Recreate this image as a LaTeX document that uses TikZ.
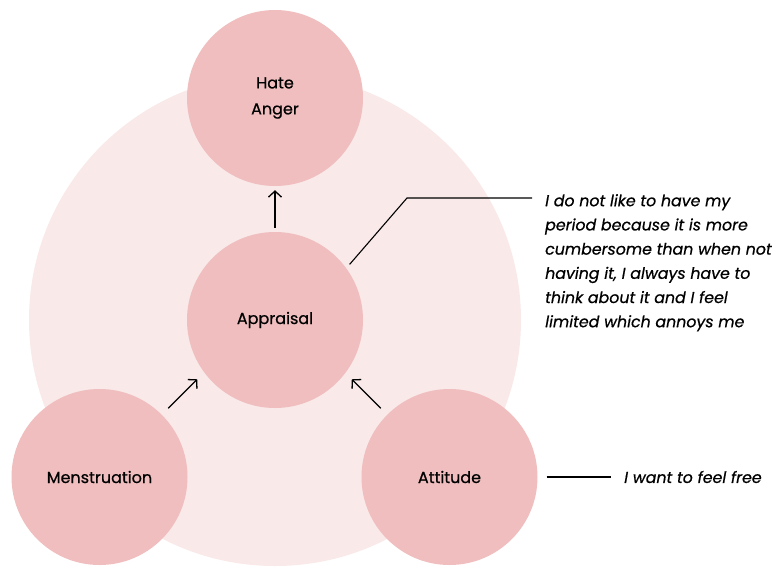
\documentclass[tikz,border=0pt]{standalone}
\usepackage{fontspec}
\setmainfont{Poppins}[FakeBold=0.6]
\usetikzlibrary{positioning, arrows.meta}
\definecolor{petal}{HTML}{F0BEBE}
\definecolor{blush}{HTML}{F9E9E9}

\begin{document}
\begin{tikzpicture}[
x=1pt, y=-1pt,
bubble/.style={circle, fill=petal, minimum size=176pt, inner sep=0pt, align=center, font=\fontsize{16}{26}\selectfont},
link/.style={-{Straight Barb[length=6pt, width=13pt]}, line width=1.3pt},
remark/.style={align=left, inner sep=0pt, font=\fontsize{15.8}{24.2}\selectfont\itshape}
]
\useasboundingbox (0,0) rectangle (774,568);

\def\cx{275}
\def\cy{320}
\def\r{246}

% soft disc behind everything
\fill[blush] (\cx,\cy) circle (\r pt);

\node[bubble] (hate) at (\cx, 98) {Hate\\Anger};
\node[bubble] (appraisal) at (\cx, \cy) {Appraisal};
\node[bubble] (menstruation) at (99.5, 477) {Menstruation};
\node[bubble] (attitude) at (449.5, 477) {Attitude};

\draw[link, shorten <=4pt, shorten >=4pt] (appraisal) -- (hate);
\draw[link] (menstruation.45) ++(45:9pt) -- ++(45:41pt);
\draw[link] (attitude.135) ++(135:9pt) -- ++(135:41pt);

% callouts
\node[remark, anchor=north west] (why) at (545, 194) {I do not like to have my\\period because it is more\\cumbersome than when not\\having it, I always have to\\think about it and I feel\\limited which annoys me};
\node[remark, anchor=west] (free) at (624, 477) {I want to feel free};

\coordinate (elbow) at (407, 198);
\coordinate (tip) at (532, 198);
\draw[line width=1.1pt, shorten <=5pt] (appraisal.36) -- (elbow) -- (tip);
\draw[line width=1.1pt, shorten <=9pt, shorten >=13pt] (attitude.east) -- (free.west);
\end{tikzpicture}
\end{document}
